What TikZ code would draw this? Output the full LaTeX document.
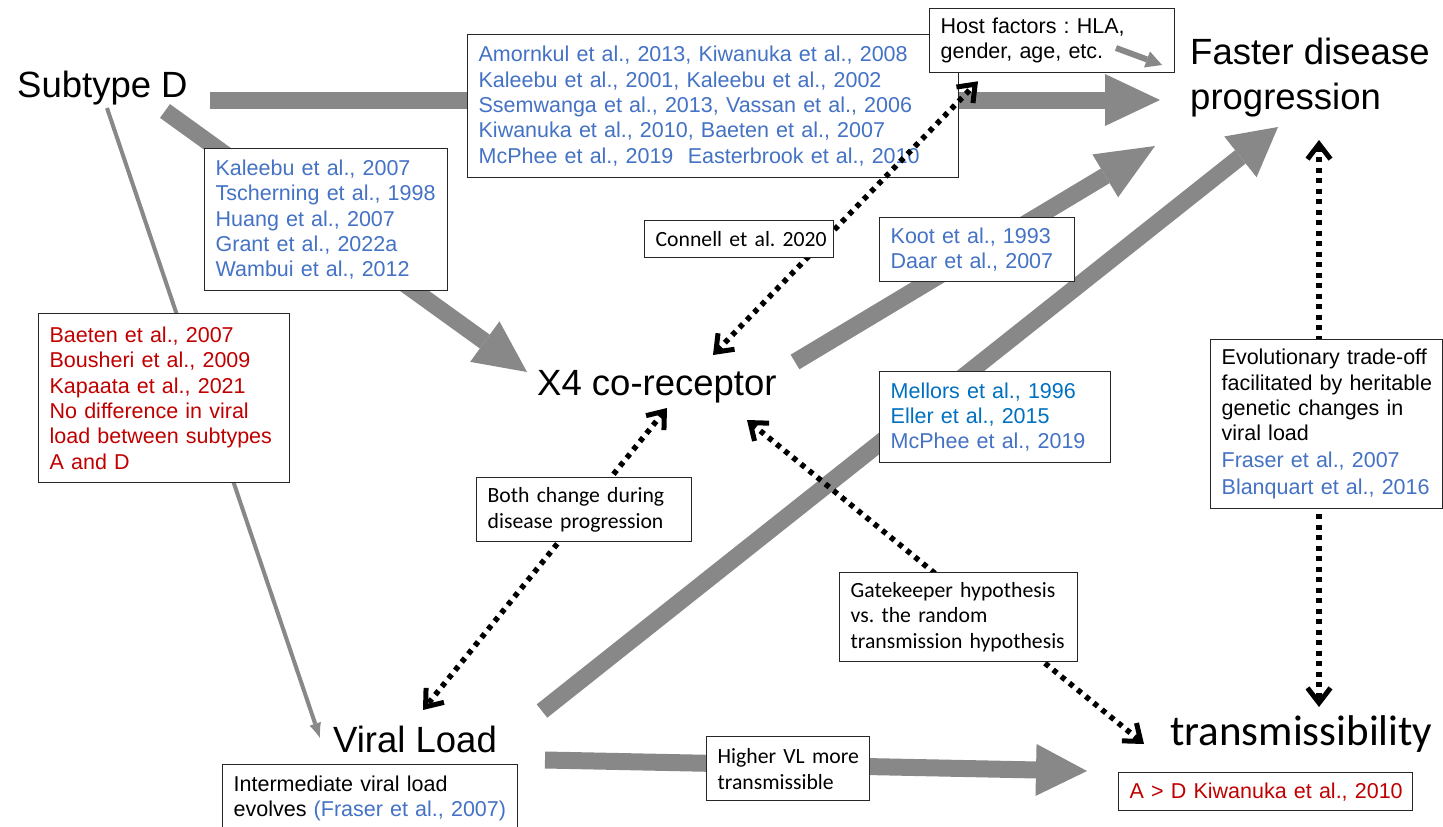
\documentclass[tikz,border=0pt]{standalone}
\usepackage{fontspec}
\setmainfont{Liberation Sans}
\newfontfamily\calibri{Carlito}
\usetikzlibrary{arrows.meta,calc}
\definecolor{cblue}{HTML}{4472C4}
\definecolor{mblue}{HTML}{0070C0}
\definecolor{cred}{HTML}{C00000}
\definecolor{agray}{HTML}{888888}
\frenchspacing
\begin{document}
\begin{tikzpicture}[x=1pt,y=-1pt,
  lbl/.style={inner sep=0pt, font=\fontsize{36.5}{45}\selectfont, align=left},
  box/.style={draw=black!85, line width=1.3pt, fill=white, anchor=north west, align=left,
              inner xsep=11pt, inner ysep=0pt, font=\fontsize{21.5}{25.3}\selectfont},
  cal/.style={font=\calibri\fontsize{21.7}{25.8}\selectfont},
  fatarrow/.style 2 args={draw=agray, line width=17pt, line cap=butt,
              -{Triangle[length=#1pt,width=#2pt,line width=0pt]}},
  thinarrow/.style={draw=agray, line width=4pt, -{Latex[length=15pt,width=12pt,line width=0pt]}},
  dotarr/.style={line width=5.5pt, dash pattern=on 5pt off 5.5pt,
              {Straight Barb[length=15pt,width=23pt,line width=5pt]}-{Straight Barb[length=15pt,width=23pt,line width=5pt]}}
]
\fill[white] (0,0) rectangle (1443,827);
\useasboundingbox (0,0) rectangle (1443,827);

% main labels
\node[lbl, anchor=base west] (subD) at (17,97) {Subtype D};
\node[lbl, anchor=north west] (faster) at (1190,38) {Faster disease\\progression};
\node[lbl, anchor=base west] (x4) at (537,395) {X4 co-receptor};
\node[lbl, anchor=base west] (vl) at (333,752) {Viral Load};
\node[inner sep=0pt, font=\calibri\fontsize{43}{50}\selectfont, anchor=base west] (trans) at (1170,745) {transmissibility};

% thick gray arrows
\draw[fatarrow={55}{52}] ($(subD.base west)+(193,3)$) -- ($(faster.north west)+(-30,62)$);
\draw[fatarrow={52}{50}] ($(subD.base west)+(148,14)$) -- ($(x4.base west)+(-10,-23)$);
\draw[fatarrow={58}{50}] ($(x4.base west)+(258,-33)$) -- ($(faster.north west)+(-35,108)$);
\draw[fatarrow={48}{52}] ($(vl.base west)+(209,-41)$) -- ($(faster.north west)+(88,89)$);
\draw[fatarrow={51}{52}] ($(vl.base west)+(212,8)$) -- ($(trans.base west)+(-83,26)$);
\draw[thinarrow] ($(subD.base west)+(90,11)$) -- ($(vl.base west)+(-13,-14)$);

% boxes under dotted lines
\node[box, text width=469pt, minimum height=143pt, text=cblue] (cite1) at (467,34)
  {\mbox{Amornkul et al., 2013, Kiwanuka et al., 2008}\\
   \mbox{Kaleebu et al., 2001, Kaleebu et al., 2002}\\
   \mbox{Ssemwanga et al., 2013, Vassan et al., 2006}\\
   \mbox{Kiwanuka et al., 2010, Baeten et al., 2007}\\
   \mbox{McPhee et al., 2019\ \ Easterbrook et al., 2010}};
\node[box, text width=221pt, minimum height=142pt, text=cblue] (kal) at (204,148)
  {\mbox{Kaleebu et al., 2007}\\\mbox{Tscherning et al., 1998}\\\mbox{Huang et al., 2007}\\
   \mbox{Grant et al., 2022a}\\\mbox{Wambui et al., 2012}};
\node[box, text width=229pt, minimum height=169pt, text=cred] (red) at (38,313)
  {\mbox{Baeten et al., 2007}\\\mbox{Bousheri et al., 2009}\\\mbox{Kapaata et al., 2021}\\
   \mbox{No difference in viral}\\\mbox{load between subtypes}\\\mbox{A and D}};
\node[box, text width=173pt, minimum height=64pt, text=cblue] (koot) at (879,217)
  {\mbox{Koot et al., 1993}\\\mbox{Daar et al., 2007}};
\node[box, text width=209pt, minimum height=91pt] (mell) at (879,371)
  {\mbox{\color{mblue}Mellors et al., 1996}\\\mbox{\color{mblue}Eller et al., 2015}\\
   \mbox{\color{cblue}McPhee et al., 2019}};
\node[box, cal, text width=141pt, minimum height=64pt] (hvl) at (706,736)
  {\mbox{Higher VL more}\\\mbox{transmissible}};
\node[box, text width=273pt, minimum height=67pt] (inter) at (222,764)
  {\mbox{Intermediate viral load}\\\mbox{evolves {\color{cblue}(Fraser et al., 2007)}}};
\node[box, text width=272pt, minimum height=38pt, text=cred] (ad) at (1118,772)
  {\mbox{A > D Kiwanuka et al., 2010}};
\node[box, text width=223pt, minimum height=64pt] (host) at (929,8)
  {\mbox{Host factors : HLA,}\\\mbox{gender, age, etc.}};
\draw[draw=agray, line width=6pt, -{Triangle[length=16pt,width=17pt,line width=0pt]}]
  ($(host.north west)+(187,40)$) -- ($(host.north west)+(233,57)$);

% dotted double arrows
\draw[dotarr] ($(x4.base west)+(176,-40)$) -- ($(host.south west)+(49,8)$);
\draw[dotarr] ($(x4.base west)+(130,13)$) -- ($(vl.base west)+(90,-42)$);
\draw[dotarr] ($(x4.base west)+(210,25)$) -- ($(trans.base west)+(-26,-1)$);
\draw[dotarr] ($(faster.north west)+(129,102)$) -- ($(trans.base west)+(149,-38)$);

% boxes over dotted lines
\node[box, cal, text width=167pt, minimum height=37pt] (conn) at (644,220)
  {\mbox{Connell et al. 2020}};
\node[box, cal, text width=193pt, minimum height=64pt] (both) at (476,477)
  {\mbox{Both change during}\\\mbox{disease progression}};
\node[box, cal, text width=216pt, minimum height=89pt] (gate) at (839,572)
  {\mbox{Gatekeeper hypothesis}\\\mbox{vs. the random}\\\mbox{transmission hypothesis}};
\node[box, text width=210pt, minimum height=169pt] (evo) at (1210,339)
  {\mbox{Evolutionary trade-off}\\\mbox{facilitated by heritable}\\\mbox{genetic changes in}\\
   \mbox{viral load}\\[1pt]\mbox{\color{cblue}Fraser et al., 2007}\\[2pt]\mbox{\color{cblue}Blanquart et al., 2016}};
\end{tikzpicture}
\end{document}
